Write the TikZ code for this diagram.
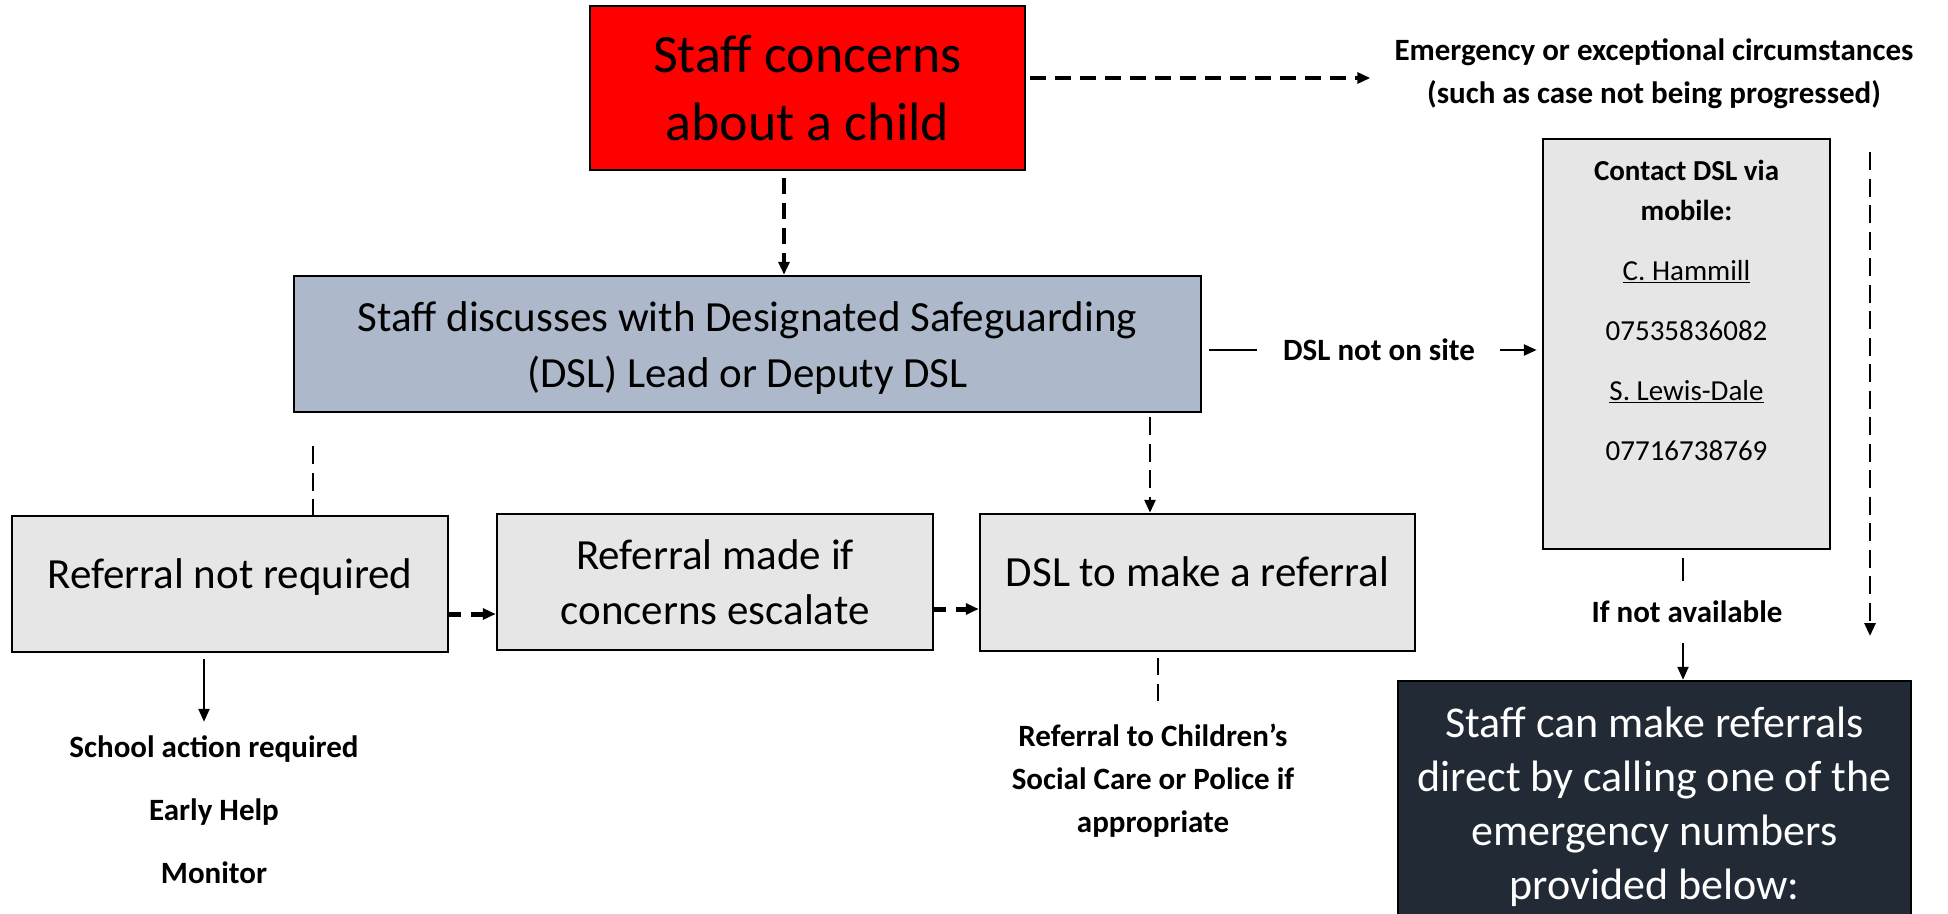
\documentclass[tikz,border=0pt]{standalone}
\usepackage{fontspec}
\setmainfont{Carlito}
\usetikzlibrary{arrows.meta}
\definecolor{cRed}{HTML}{FF0000}
\definecolor{cBlue}{HTML}{ADB9CA}
\definecolor{cGrey}{HTML}{E7E6E6}
\definecolor{cDark}{HTML}{222A35}
\begin{document}
\begin{tikzpicture}[x=1pt,y=-1pt,
  box/.style={draw=black, line width=2.5pt, inner sep=0pt, align=center},
  lbl/.style={font=\fontsize{31}{43}\selectfont\bfseries, align=center, inner sep=0pt},
  tip/.style={-{Triangle[length=13pt,width=11pt]}},
  dshA/.style={line width=3.5pt, dash pattern=on 16pt off 9pt},
  dshB/.style={line width=2.8pt, dash pattern=on 18pt off 8.5pt},
  dshC/.style={line width=5pt, dash pattern=on 12pt off 10pt},
  solid/.style={line width=2.2pt},
]
\useasboundingbox (0,0) rectangle (1948,913);

% boxes
\node[box, fill=cRed, minimum width=435pt, minimum height=164pt,
      font=\fontsize{54}{68}\selectfont] (red) at (807.5,88) {Staff concerns\\about a child};
\node[box, fill=cBlue, minimum width=907pt, minimum height=136pt,
      font=\fontsize{43}{56}\selectfont] (blue) at (747.5,344)
      {\rule{0pt}{38pt}Staff discusses with Designated Safeguarding\\(DSL) Lead or Deputy DSL};
\node[box, fill=cGrey, minimum width=287pt, minimum height=410pt,
      font=\fontsize{29}{40}\selectfont] (contact) at (1686.5,344)
      {\textbf{Contact DSL via}\\\textbf{mobile:}\\[20pt]\underline{C. Hammill}\\[20pt]07535836082\\[20pt]\underline{S. Lewis-Dale}\\[20pt]07716738769\\[27pt]\mbox{}};
\node[box, fill=cDark, text=white, minimum width=513pt, minimum height=252pt,
      font=\fontsize{44}{54}\selectfont] (dark) at (1654.5,807)
      {Staff can make referrals\\direct by calling one of the\\emergency numbers\\provided below:};
\node[box, fill=cGrey, minimum width=436pt, minimum height=136pt,
      font=\fontsize{43}{55}\selectfont, text height=32pt, text depth=24pt] (rnr) at (230,584) {Referral not required};
\node[box, fill=cGrey, minimum width=436pt, minimum height=136pt,
      font=\fontsize{43}{55}\selectfont] (rmi) at (715,582) {Referral made if\\concerns escalate};
\node[box, fill=cGrey, minimum width=435pt, minimum height=137pt,
      font=\fontsize{43}{55}\selectfont, text height=32pt, text depth=24pt] (dsl) at (1197.5,582.5) {DSL to make a referral};

% labels
\node[lbl] (emerg) at (1654,74) {Emergency or exceptional circumstances\\(such as case not being progressed)};
\node[lbl] (dslns) at (1379,350) {DSL not on site};
\node[lbl] (ifna) at (1687,612) {If not available};
\node[lbl, font=\fontsize{31}{63}\selectfont\bfseries] (school) at (214,810) {School action required\\Early Help\\Monitor};
\node[lbl] (refcsc) at (1153,781) {Referral to Children’s\\Social Care or Police if\\appropriate};

% helper coordinates
\coordinate (xa) at (784,0);
\coordinate (ya) at (0,78);
\coordinate (e1) at (1870,152);
\coordinate (e2) at (1870,636);
\coordinate (xc) at (1683,0);
\coordinate (xb) at (313,0);
\coordinate (xd) at (1150,0);
\coordinate (yb) at (0,614);
\coordinate (yc) at (0,609);
\coordinate (xs) at (204,0);
\coordinate (xr) at (1158,0);

% connectors
\draw[dshA, tip, shorten <=7pt] (red.south -| xa) -- (blue.north -| xa);
\draw[dshA, tip, shorten <=4pt, shorten >=24pt] (red.east |- ya) -- (emerg.west |- ya);
\draw[dshB, tip] (e1) -- (e2);
\draw[solid, line width=2.5pt, shorten <=7pt, shorten >=26pt] (blue.east |- dslns) -- (dslns.west);
\draw[solid, line width=2.5pt, tip, shorten <=25pt, shorten >=5pt] (dslns.east) -- (contact.west |- dslns);
\draw[solid, shorten <=8pt, shorten >=20pt] (contact.south -| xc) -- (ifna.north -| xc);
\draw[solid, tip, shorten <=20pt] (ifna.south -| xc) -- (dark.north -| xc);
\draw[dshB, shorten <=33pt] (blue.south -| xb) -- (rnr.north -| xb);
\draw[dshB, tip, shorten <=4pt] (blue.south -| xd) -- (dsl.north -| xd);
\draw[dshC, tip] (rnr.east |- yb) -- (rmi.west |- yb);
\draw[dshC, tip] (rmi.east |- yc) -- (dsl.west |- yc);
\draw[solid, tip, shorten <=6pt, shorten >=14pt] (rnr.south -| xs) -- (school.north -| xs);
\draw[dshB, dash pattern=on 17pt off 9pt, shorten <=6pt, shorten >=23pt] (dsl.south -| xr) -- (refcsc.north -| xr);
\end{tikzpicture}
\end{document}
